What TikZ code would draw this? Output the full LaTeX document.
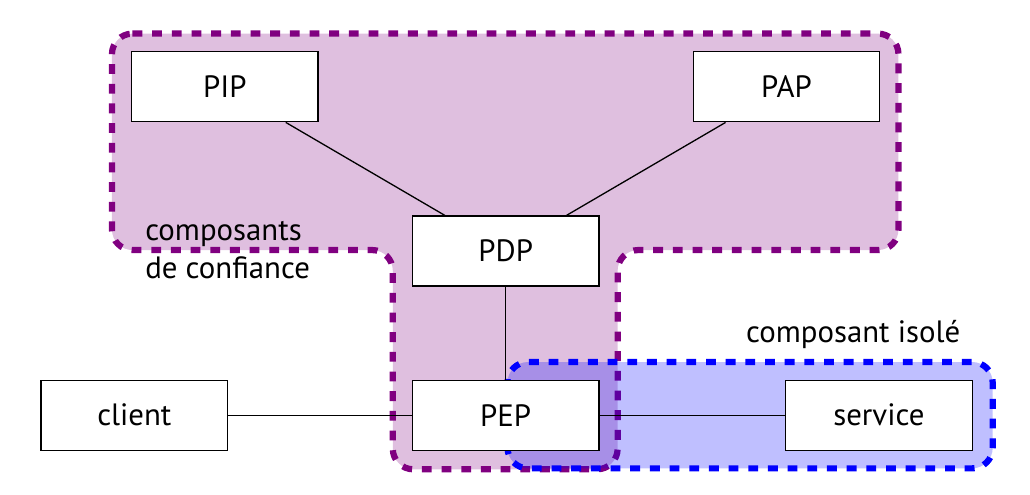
\documentclass[tikz,border=0pt]{standalone}
\usepackage{fontspec}
\setmainfont{PT Sans}
\definecolor{trustcol}{RGB}{128,0,128}
\definecolor{isolcol}{RGB}{0,0,255}
\begin{document}
\begin{tikzpicture}[font=\fontsize{9.4}{11.6}\selectfont,
  box/.style={draw, thin, fill=white, minimum width=2cm, minimum height=0.75cm},
  zone/.style={line width=1.9pt, dashed, rounded corners=0.22cm, fill opacity=0.25}]
\useasboundingbox (-5.42,-0.85) rectangle (5.62,4.45);
% zones
\draw[zone, draw=trustcol, fill=trustcol] (-4.22,4.09) -- (4.21,4.09) -- (4.21,1.77) -- (1.20,1.77) -- (1.20,-0.58) -- (-1.21,-0.58) -- (-1.21,1.77) -- (-4.22,1.77) -- cycle;
\draw[zone, draw=isolcol, fill=isolcol] (0.02,-0.57) rectangle (5.22,0.57);
\node[anchor=base west, align=left, inner sep=0pt] (trustlbl) at (-3.87,1.47) {composants\\de confiance};
\node[anchor=base east, inner sep=0pt] (isollbl) at (4.88,0.78) {composant isolé};
% composants
\node[box] (pep) at (0,0){PEP};
\node[box] (pdp) at (0,1.76){PDP};
\node[box] (pip) at (-3.01,3.52){PIP};
\node[box] (pap) at (3.01,3.52){PAP};
\node[box] (client) at (-3.98,0){client};
\node[box] (service) at (4,0){service};
\draw[](pip) -- (pdp);
\draw[](pap) -- (pdp);
\draw[](pdp) -- (pep);
\draw[](client) -- (pep);
\draw[](pep) -- (service);
\end{tikzpicture}
\end{document}
